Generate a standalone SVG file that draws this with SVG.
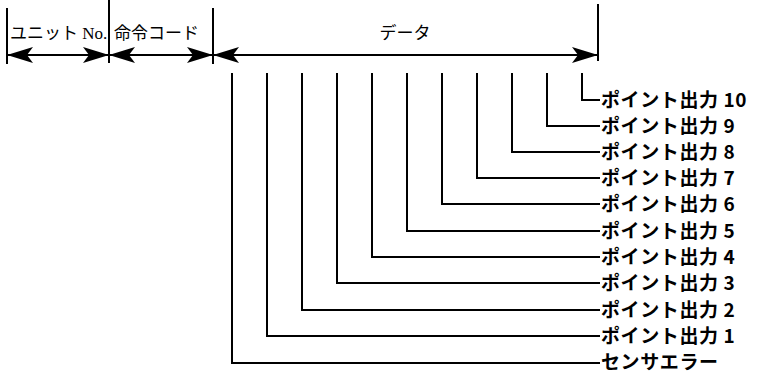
<svg xmlns="http://www.w3.org/2000/svg" width="769" height="373" viewBox="0 0 769 373">
  <style>
    .ln { stroke: #000; stroke-width: 2; fill: none; }
    .hd { font-family: "Liberation Serif", "Noto Sans CJK JP", serif; font-size: 17px; fill: #000; }
    .lb { font-family: "Noto Sans CJK JP", "Liberation Sans", sans-serif; font-size: 19px; font-weight: bold; letter-spacing: 0.6px; fill: #000; }
  </style>
  <defs>
    <marker id="ah" viewBox="0 0 26 16" refX="26" refY="8" markerWidth="26" markerHeight="16" markerUnits="userSpaceOnUse" orient="auto-start-reverse">
      <path d="M0,0 L26,8 L0,16 L6,8 Z" fill="#000"/>
    </marker>
  </defs>
  <rect width="769" height="373" fill="#fff"/>

  <!-- frame header: field dividers and span arrows -->
  <g id="header">
    <line class="ln" x1="7" y1="8" x2="7" y2="64"/>
    <line class="ln" x1="109" y1="0" x2="109" y2="63"/>
    <line class="ln" x1="213" y1="8" x2="213" y2="64"/>
    <line class="ln" x1="598" y1="4" x2="598" y2="61"/>
    <line class="ln" x1="7" y1="55" x2="109" y2="55" marker-start="url(#ah)" marker-end="url(#ah)"/>
    <line class="ln" x1="109" y1="55" x2="213" y2="55" marker-start="url(#ah)" marker-end="url(#ah)"/>
    <line class="ln" x1="213" y1="55" x2="598" y2="55" marker-start="url(#ah)" marker-end="url(#ah)"/>
  </g>
  <g id="field-unit"><text class="hd" x="10" y="39">ユニット No.</text></g>
  <g id="field-command"><text class="hd" x="114" y="39">命令コード</text></g>
  <g id="field-data"><text class="hd" x="405" y="39" text-anchor="middle">データ</text></g>

  <!-- bit leaders from the data field to each output label -->
  <g id="connectors">
    <path class="ln" d="M232,73 V363 H600"/>
    <path class="ln" d="M267,73 V336 H600"/>
    <path class="ln" d="M302,73 V310 H600"/>
    <path class="ln" d="M337,73 V283 H600"/>
    <path class="ln" d="M372,73 V257 H600"/>
    <path class="ln" d="M407,73 V231 H600"/>
    <path class="ln" d="M442,73 V204 H600"/>
    <path class="ln" d="M477,73 V178 H600"/>
    <path class="ln" d="M512,73 V152 H600"/>
    <path class="ln" d="M547,73 V126 H600"/>
    <path class="ln" d="M582,73 V100 H600"/>
  </g>

  <g id="out10"><text class="lb" x="601" y="107">ポイント出力 10</text></g>
  <g id="out9"><text class="lb" x="601" y="133">ポイント出力 9</text></g>
  <g id="out8"><text class="lb" x="601" y="159">ポイント出力 8</text></g>
  <g id="out7"><text class="lb" x="601" y="185">ポイント出力 7</text></g>
  <g id="out6"><text class="lb" x="601" y="211">ポイント出力 6</text></g>
  <g id="out5"><text class="lb" x="601" y="238">ポイント出力 5</text></g>
  <g id="out4"><text class="lb" x="601" y="264">ポイント出力 4</text></g>
  <g id="out3"><text class="lb" x="601" y="290">ポイント出力 3</text></g>
  <g id="out2"><text class="lb" x="601" y="317">ポイント出力 2</text></g>
  <g id="out1"><text class="lb" x="601" y="343">ポイント出力 1</text></g>
  <g id="sensor-error"><text class="lb" x="601" y="369">センサエラー</text></g>
</svg>
